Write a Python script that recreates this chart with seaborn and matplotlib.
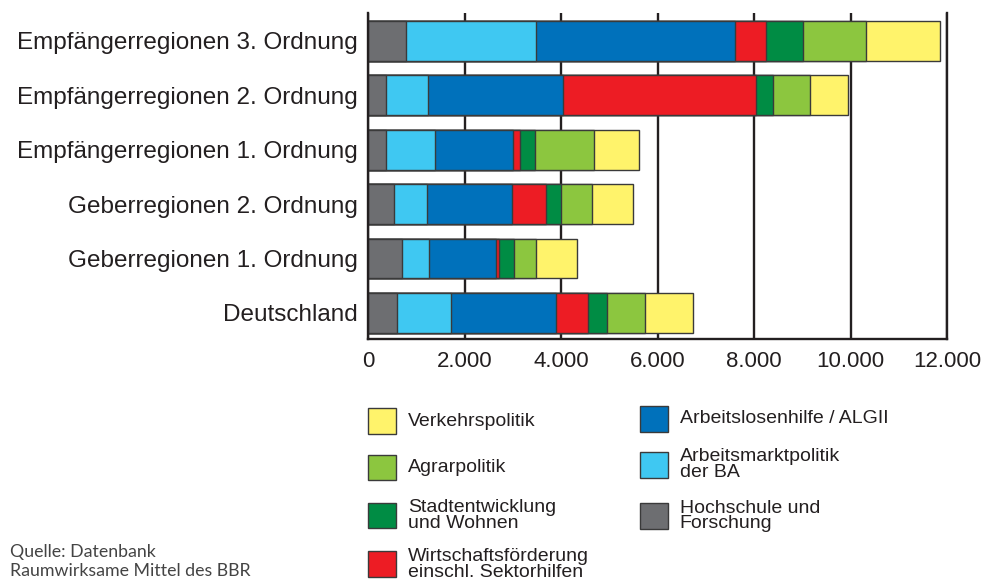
import numpy as np
import pandas as pd
import matplotlib
matplotlib.use("Agg")
import matplotlib.pyplot as plt
from matplotlib.patches import Rectangle
import seaborn as sns

regions = ["Empfängerregionen 3. Ordnung", "Empfängerregionen 2. Ordnung",
           "Empfängerregionen 1. Ordnung", "Geberregionen 2. Ordnung",
           "Geberregionen 1. Ordnung", "Deutschland"]

# segments from left to right
hochschule = [780, 380, 380, 530, 700, 610]
arbeitsmarkt = [2710, 860, 1010, 690, 570, 1110]
alg = [4110, 2800, 1620, 1760, 1380, 2180]
wirtschaft = [640, 4010, 130, 710, 60, 650]
stadt = [770, 340, 320, 310, 310, 400]
agrar = [1310, 770, 1220, 640, 470, 780]
verkehr = [1530, 780, 930, 850, 840, 1000]

series_names = ["Hochschule und\nForschung", "Arbeitsmarktpolitik\nder BA",
                "Arbeitslosenhilfe / ALGII", "Wirtschaftsförderung\neinschl. Sektorhilfen",
                "Stadtentwicklung\nund Wohnen", "Agrarpolitik", "Verkehrspolitik"]
series_colors = ["#6d6e71", "#3fc8f2", "#0071bb", "#ed1c24", "#008c44", "#8cc63f", "#fff36b"]

x_ticks = [0, 2000, 4000, 6000, 8000, 10000, 12000]
x_tick_labels = ["0", "2.000", "4.000", "6.000", "8.000", "10.000", "12.000"]

df = pd.DataFrame({
    "region": regions,
    series_names[0]: hochschule,
    series_names[1]: arbeitsmarkt,
    series_names[2]: alg,
    series_names[3]: wirtschaft,
    series_names[4]: stadt,
    series_names[5]: agrar,
    series_names[6]: verkehr,
})
cum = df[series_names].cumsum(axis=1)

sns.set_theme(style="white")
plt.rcParams["font.family"] = ["Liberation Sans", "DejaVu Sans"]
text_col = "#231f20"

fig = plt.figure(figsize=(9.92, 5.81), dpi=100)
ax = fig.add_axes([0.371, 0.4157, 0.5837, 0.562])

# stacked bars: draw cumulative totals from the longest down
for name, col in reversed(list(zip(series_names, series_colors))):
    sns.barplot(x=cum[name], y=df["region"], orient="h", color=col, width=0.734,
                edgecolor="#3a3a3a", linewidth=1.0, saturation=1, ax=ax)

ax.set_xlim(0, 12000)
ax.set_ylim(5.487, -0.51)
ax.set_xticks(x_ticks)
ax.set_xticklabels(x_tick_labels, fontsize=16, color=text_col)
ax.tick_params(axis="x", length=0, pad=8)
ax.tick_params(axis="y", length=0, pad=7.5, labelsize=17.5, labelcolor=text_col)
ax.set_xlabel("")
ax.set_ylabel("")
ax.set_axisbelow(True)
ax.grid(axis="x", color=text_col, linewidth=1.7)
ax.grid(axis="y", visible=False)
for side in ["left", "bottom", "right"]:
    ax.spines[side].set_visible(True)
    ax.spines[side].set_color(text_col)
    ax.spines[side].set_linewidth(1.7)
ax.spines["top"].set_visible(False)

# legend, two columns
legend_cols = [
    [(6, 0.275), (5, 0.195), (4, 0.113), (3, 0.029)],
    [(2, 0.279), (1, 0.200), (0, 0.112)],
]
col_x = [0.371, 0.645]
for xpos, entries in zip(col_x, legend_cols):
    for idx, ypos in entries:
        fig.patches.append(Rectangle((xpos, ypos - 0.022), 0.028, 0.044,
                                     transform=fig.transFigure, facecolor=series_colors[idx],
                                     edgecolor="#3a3a3a", linewidth=1.0))
        fig.text(xpos + 0.04, ypos, series_names[idx], fontsize=14, color=text_col,
                 va="center", ha="left", linespacing=0.9)

fig.text(0.01, 0.034, "Quelle: Datenbank\nRaumwirksame Mittel des BBR", fontsize=12.8,
         color="#444444", va="center", ha="left", family=["Lato", "DejaVu Sans"],
         linespacing=1.2)

fig.savefig("out.png", dpi=100)
